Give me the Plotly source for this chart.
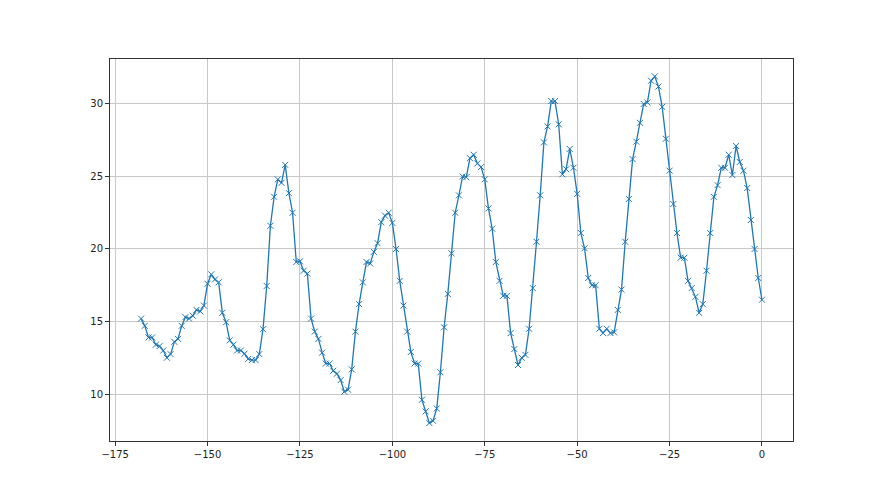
import plotly.graph_objects as go

# hours relative to now, and the measured value at each hour
hours = list(range(-168, 1))

values = [
    15.2, 14.7, 13.9, 13.9, 13.4, 13.3, 13.0, 12.5, 12.75, 13.6,   # -168..-159
    13.8, 14.7, 15.3, 15.2, 15.4, 15.8, 15.7, 16.1, 17.6, 18.25,   # -158..-149
    17.9, 17.7, 15.6, 14.95, 13.7, 13.4, 13.0, 13.0, 12.78, 12.42,  # -148..-139
    12.34, 12.34, 12.75, 14.47, 17.45, 21.6, 23.6, 24.8, 24.56, 25.8,  # -138..-129
    23.85, 22.5, 19.1, 19.15, 18.5, 18.3, 15.2, 14.3, 13.8, 12.85,  # -128..-119
    12.1, 12.1, 11.6, 11.4, 10.96, 10.16, 10.3, 11.7, 14.3, 16.2,   # -118..-109
    17.7, 19.1, 19.0, 19.8, 20.4, 21.85, 22.3, 22.5, 21.8, 20.0,    # -108..-99
    17.8, 16.1, 14.3, 12.9, 12.1, 12.1, 9.6, 8.8, 8.0, 8.15,        # -98..-89
    9.0, 11.5, 14.6, 16.9, 19.7, 22.5, 23.7, 25.0, 24.95, 26.26,    # -88..-79
    26.5, 25.9, 25.65, 24.8, 22.8, 21.4, 19.1, 17.8, 16.77, 16.77,  # -78..-69
    14.2, 13.1, 12.0, 12.5, 12.7, 14.5, 17.3, 20.5, 23.7, 27.35,    # -68..-59
    28.45, 30.2, 30.2, 28.6, 25.15, 25.5, 26.9, 25.6, 23.8, 21.1,   # -58..-49
    20.05, 18.0, 17.5, 17.5, 14.5, 14.2, 14.5, 14.2, 14.25, 15.8,   # -48..-39
    17.2, 20.5, 23.45, 26.2, 27.4, 28.7, 30.0, 30.1, 31.6, 31.9,    # -38..-29
    31.2, 29.8, 27.6, 25.4, 23.1, 21.1, 19.4, 19.4, 17.8, 17.3,     # -28..-19
    16.7, 15.6, 16.2, 18.5, 21.1, 23.6, 24.4, 25.6, 25.6, 26.5,     # -18..-9
    25.1, 27.1, 26.0, 25.4, 24.2, 22.0, 20.0, 18.0, 16.5,           # -8..0
]

x_ticks = [-175, -150, -125, -100, -75, -50, -25, 0]
y_ticks = [10, 15, 20, 25, 30]

BLUE = "#1f77b4"
GRID = "#c8c8c8"
FRAME = "#333333"

fig = go.Figure()
fig.add_trace(
    go.Scatter(
        x=hours,
        y=values,
        mode="lines+markers",
        line=dict(color=BLUE, width=1.3),
        marker=dict(symbol="x-thin", size=6, color=BLUE, line=dict(width=1, color=BLUE)),
    )
)

axis_style = dict(
    showgrid=True,
    gridcolor=GRID,
    gridwidth=1,
    zeroline=False,
    showline=True,
    linecolor=FRAME,
    linewidth=1,
    mirror=True,
    ticks="outside",
    ticklen=4,
    tickcolor=FRAME,
    tickfont=dict(family="DejaVu Sans", size=10, color="#222222"),
)

# the page body adds 8px on the left and top, so margins are shifted by that
fig.update_layout(
    width=880,
    height=495,
    paper_bgcolor="white",
    plot_bgcolor="white",
    showlegend=False,
    margin=dict(l=102, r=95, t=51, b=62),
    xaxis=dict(range=[-176.4, 8.4], tickvals=x_ticks, **axis_style),
    yaxis=dict(range=[6.76, 33.1], tickvals=y_ticks, **axis_style),
)

fig.write_html("out.html")
